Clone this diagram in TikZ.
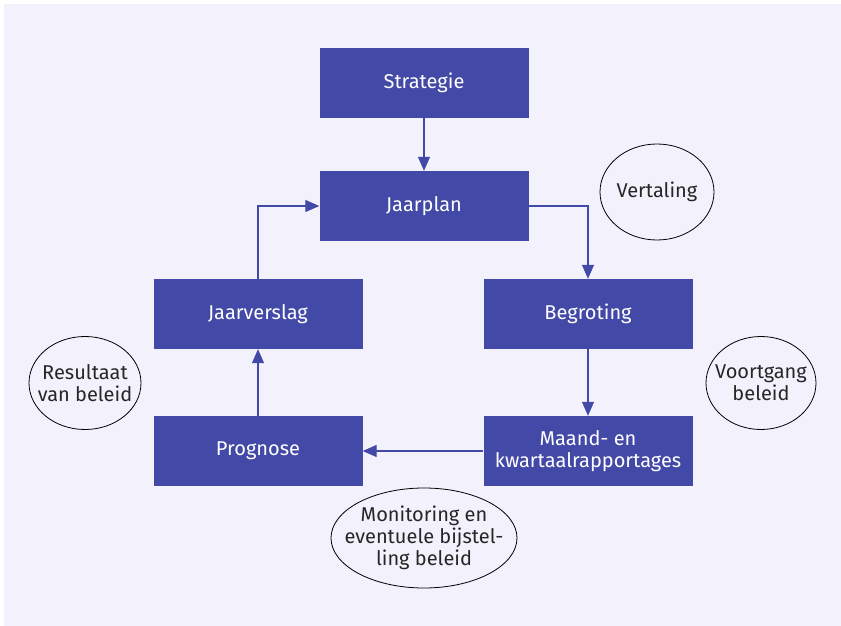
\documentclass[tikz,border=0pt]{standalone}
\usepackage{fontspec}
\setmainfont{Fira Sans}
\usetikzlibrary{arrows.meta,shapes.geometric}
\definecolor{boxblue}{HTML}{4349A6}
\definecolor{bgpaper}{HTML}{F3F2FC}
\begin{document}
\begin{tikzpicture}[x=1pt,y=-1pt,
    blok/.style={fill=boxblue,text=white,minimum width=209pt,minimum height=70pt,inner sep=0pt,align=center,font=\fontsize{20}{21.5}\selectfont},
    wolk/.style={draw=black,line width=0.8pt,ellipse,inner sep=-40pt,align=center,font=\fontsize{20}{22}\selectfont,text=black!85},
    pijl/.style={draw=boxblue,line width=1.1pt,-{Triangle[length=14pt,width=12pt]}}]

  \useasboundingbox (0,0) rectangle (841,626);
  \fill [bgpaper] (4,4) rectangle (841,626);

% blokken
  \node [blok] (strategie) at (424,83) {Strategie};
  \node [blok] (jaarplan) at (424,206) {Jaarplan};
  \node [blok] (begroting) at (588,314) {Begroting};
  \node [blok] (jaarverslag) at (258,314) {Jaarverslag};
  \node [blok] (prognose) at (258,451) {Prognose};
  \node [blok] (rapportages) at (588,451) {Maand- en\\kwartaalrapportages};

% ellipsen
  \node [wolk,minimum width=114pt,minimum height=96pt] (vertaling) at (657,192) {Vertaling};
  \node [wolk,minimum width=110pt,minimum height=93pt] (voortgang) at (761,383) {Voortgang\\beleid};
  \node [wolk,minimum width=112pt,minimum height=93pt] (resultaat) at (85,383) {Resultaat\\van beleid};
  \node [wolk,minimum width=186pt,minimum height=100pt] (monitoring) at (424,538) {Monitoring en\\eventuele bijstel-\\ling beleid};

% pijlen
  \draw [pijl] (strategie) -- (jaarplan);
  \draw [pijl] (jaarplan.east) -| (begroting.north);
  \draw [pijl] (begroting) -- (rapportages);
  \draw [pijl] (rapportages) -- (prognose);
  \draw [pijl] (prognose) -- (jaarverslag);
  \draw [pijl] (jaarverslag.north) |- (jaarplan.west);

\end{tikzpicture}
\end{document}
